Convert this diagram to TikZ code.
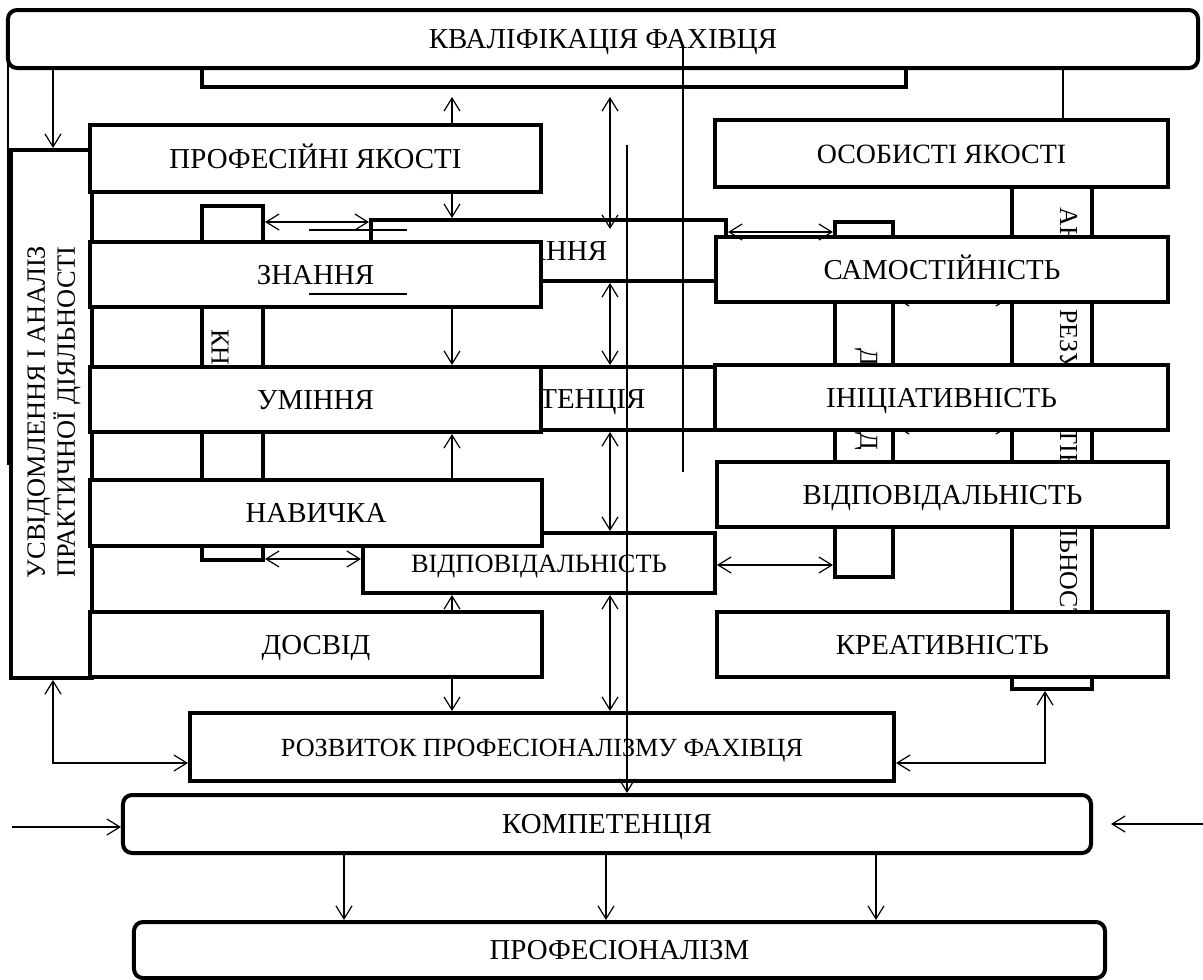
\documentclass[tikz,border=0pt]{standalone}
\usepackage{fontspec}
\setmainfont{Liberation Serif}
\usetikzlibrary{arrows.meta}
\usetikzlibrary{positioning}
\usetikzlibrary{calc}
\tikzset{box/.style={draw, line width=4bp, fill=white, inner sep=0pt, text height=19bp, text depth=0bp, font=\fontsize{29}{32}\selectfont},
  rbox/.style={box, rounded corners=9bp},
  vtext/.style={inner sep=0pt, font=\fontsize{26}{30}\selectfont},
  link/.style={line width=1.2bp},
  stray/.style={line width=1.8bp}}

\begin{document}
\begin{tikzpicture}[x=1bp,y=-1bp,>={Straight Barb[length=13bp,width=16bp]}]
%%
\fill[white] (0,0) rectangle (1203,980);
\useasboundingbox (0,0) rectangle (1203,980);
%% columns and rows used by the connectors
\coordinate (cL) at (53,0);
\coordinate (cA) at (452,0);
\coordinate (cB) at (610,0);
\coordinate (cR) at (1045,0);
\coordinate (cO) at (1063,0);
\coordinate (r1) at (0,222);
\coordinate (r2) at (0,559);
\coordinate (r3) at (0,232);
\coordinate (r4) at (0,565);
\coordinate (r5) at (0,298);
\coordinate (r6) at (0,426);
\coordinate (r7) at (0,763);
%%
\node[box, minimum width=704bp, minimum height=47bp] (hidtop) at (554,63.5) {};
\node[rbox, minimum width=1190bp, minimum height=58bp] (kval) at (603,39) {КВАЛІФІКАЦІЯ ФАХІВЦЯ};
%% vertical boxes, mostly hidden
\node[box, minimum width=81bp, minimum height=528bp] (usv) at (51.5,414) {};
\node[vtext, rotate=90, align=center, font=\fontsize{26.5}{30}\selectfont] (usvtxt) at (54,412) {УСВІДОМЛЕННЯ І АНАЛІЗ\\ПРАКТИЧНОЇ ДІЯЛЬНОСТІ};
\node[box, minimum width=61bp, minimum height=354bp] (lvbox) at (232.5,383) {};
\node[vtext, rotate=-90] (lvtxt) at (220,347) {КН};
\node[box, minimum width=58bp, minimum height=355bp] (dbox) at (864,399.5) {};
\node[vtext, rotate=-90] (dtxt1) at (866,357) {Д};
\node[vtext, rotate=-90] (dtxt2) at (866,441) {Д};
\node[box, minimum width=80bp, minimum height=520bp] (anbox) at (1052,429) {};
\node[vtext, rotate=-90] (antxt) at (1066,420) {АНАЛІЗ РЕЗУЛЬТАТІВ ДІЯЛЬНОСТІ};
\draw[link,<->] (dbox.east |- r5) -- (anbox.west |- r5);
\draw[link,<->] (dbox.east |- r6) -- (anbox.west |- r6);
%% middle boxes
\node[box, minimum width=355bp, minimum height=61bp] (znhid) at (548.5,250.5) {ЗНАННЯ};
\node[box, minimum width=351bp, minimum height=63bp] (komhid) at (540.5,398.5) {КОМПЕТЕНЦІЯ};
\node[box, minimum width=352bp, minimum height=60bp, font=\fontsize{26.5}{30}\selectfont] (vidc) at (539,563) {ВІДПОВІДАЛЬНІСТЬ};
%% left column
\node[box, minimum width=451bp, minimum height=67bp] (prof) at (315.5,158.5) {ПРОФЕСІЙНІ ЯКОСТІ};
\node[box, minimum width=451bp, minimum height=65bp] (znan) at (315.5,274.5) {ЗНАННЯ};
\node[box, minimum width=451bp, minimum height=65bp] (umin) at (315.5,399.5) {УМІННЯ};
\node[box, minimum width=452bp, minimum height=66bp] (navy) at (316,513) {НАВИЧКА};
\node[box, minimum width=452bp, minimum height=65bp] (dosv) at (316,644.5) {ДОСВІД};
%% right column
\node[box, minimum width=453bp, minimum height=67bp, font=\fontsize{28}{30}\selectfont] (osob) at (941.5,153.5) {ОСОБИСТІ ЯКОСТІ};
\node[box, minimum width=452bp, minimum height=65bp] (samo) at (942,269.5) {САМОСТІЙНІСТЬ};
\node[box, minimum width=453bp, minimum height=65bp] (inic) at (941.5,397.5) {ІНІЦІАТИВНІСТЬ};
\node[box, minimum width=451bp, minimum height=65bp] (vidr) at (942.5,494.5) {ВІДПОВІДАЛЬНІСТЬ};
\node[box, minimum width=451bp, minimum height=65bp] (krea) at (942.5,644.5) {КРЕАТИВНІСТЬ};
%% bottom
\node[box, minimum width=704bp, minimum height=68bp, font=\fontsize{26.3}{30}\selectfont] (rozv) at (542,747) {РОЗВИТОК ПРОФЕСІОНАЛІЗМУ ФАХІВЦЯ};
\node[rbox, minimum width=968bp, minimum height=58bp] (komp) at (607,824) {КОМПЕТЕНЦІЯ};
\node[rbox, minimum width=971bp, minimum height=56bp] (prfm) at (619.5,950) {ПРОФЕСІОНАЛІЗМ};
%% connectors
\draw[link,->] (kval.south -| cL) -- (usv.north -| cL);
\draw[link,->,shorten >=8bp] (prof.north -| cA) -- (hidtop.south -| cA);
\draw[link,->] (prof.south -| cA) -- (znhid.north -| cA);
\draw[link,->] (znan.south -| cA) -- (umin.north -| cA);
\draw[link,->] (navy.north -| cA) -- (umin.south -| cA);
\draw[link,->] (dosv.north -| cA) -- (vidc.south -| cA);
\draw[link,->] (dosv.south -| cA) -- (rozv.north -| cA);
\draw[link,<->,shorten <=8bp,shorten >=-11bp] (hidtop.south -| cB) -- (znhid.north -| cB);
\draw[link,<->] (znhid.south -| cB) -- (komhid.north -| cB);
\draw[link,<->] (komhid.south -| cB) -- (vidc.north -| cB);
\draw[link,<->] (vidc.south -| cB) -- (rozv.north -| cB);
\draw[link,<->] (lvbox.east |- r1) -- (znhid.west |- r1);
\draw[link,<->] (lvbox.east |- r2) -- (vidc.west |- r2);
\draw[link,<->] (znhid.east |- r3) -- (dbox.west |- r3);
\draw[link,<->] (vidc.east |- r4) -- (dbox.west |- r4);
\draw[link,<->] (usv.south -| cL) |- (rozv.west |- r7);
\draw[link,<->] (rozv.east |- r7) -| (anbox.south -| cR);
\draw[link] (kval.south -| cO) -- (osob.north -| cO);
%%
\coordinate (lin) at (12,827);
\coordinate (rin) at (1203,824);
\draw[link,->] (lin) -- (komp.west |- lin);
\draw[link,->,shorten >=18bp] (rin) -- (komp.east |- rin);
\foreach \cx in {344,606,876}
  \draw[link,->] (komp.south -| \cx,0) -- (prfm.north -| \cx,0);
%% loose lines
\coordinate (la1) at (627,145);
\draw[link,->] (la1) -- (komp.north -| la1);
\coordinate (la2) at (683,47);
\coordinate (la3) at (683,472);
\draw[link] (la2) -- (la3);
\coordinate (la4) at (8,42);
\coordinate (la5) at (8,465);
\draw[stray] (la4) -- (la5);
\coordinate (u1) at (309,230);
\coordinate (u2) at (407,230);
\coordinate (u3) at (309,294);
\coordinate (u4) at (407,294);
\draw[stray] (u1) -- (u2);
\draw[stray] (u3) -- (u4);
%
\end{tikzpicture}
\end{document}
